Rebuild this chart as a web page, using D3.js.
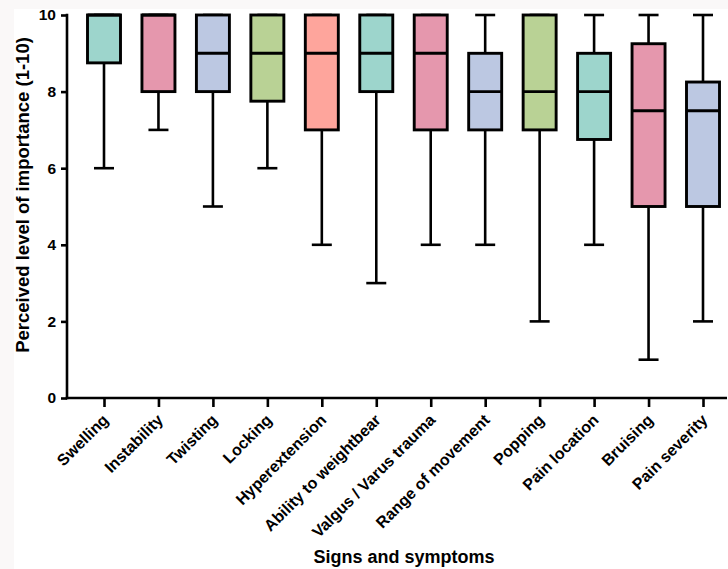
<!DOCTYPE html>
<html>
<head>
<meta charset="utf-8">
<script src="https://cdn.jsdelivr.net/npm/d3@7"></script>
<style>
  html, body { margin: 0; padding: 0; background: #faf8f8; }
  svg { display: block; }
  text { font-family: "Liberation Sans", Arial, Helvetica, sans-serif; font-weight: bold; fill: #000; }
</style>
</head>
<body>
<svg id="chart" width="728" height="569"></svg>
<script>
const categories = ["Swelling", "Instability", "Twisting", "Locking", "Hyperextension",
  "Ability to weightbear", "Valgus / Varus trauma", "Range of movement", "Popping",
  "Pain location", "Bruising", "Pain severity"];
const mins    = [6, 7, 5, 6, 4, 3, 4, 4, 2, 4, 1, 2];
const q1s     = [8.75, 8, 8, 7.75, 7, 8, 7, 7, 7, 6.75, 5, 5];
const medians = [10, 10, 9, 9, 9, 9, 9, 8, 8, 8, 7.5, 7.5];
const q3s     = [10, 10, 10, 10, 10, 10, 10, 9, 10, 9, 9.25, 8.25];
const maxs    = [10, 10, 10, 10, 10, 10, 10, 10, 10, 10, 10, 10];
const fills   = ["#9dd5cc", "#e597ad", "#bcc8e2", "#b9d295", "#fea59c", "#9dd5cc",
  "#e597ad", "#bcc8e2", "#b9d295", "#9dd5cc", "#e597ad", "#bcc8e2"];
const yTicks  = [0, 2, 4, 6, 8, 10];
const yTitle = "Perceived level of importance (1-10)";
const xTitle = "Signs and symptoms";

const svg = d3.select("#chart");
svg.append("rect").attr("x", 14).attr("y", 9).attr("width", 714).attr("height", 560).attr("fill", "#ffffff");

const x = d3.scalePoint().domain(categories).range([104, 703]);
const y = d3.scaleLinear().domain([0, 10]).range([398, 15]);

const data = categories.map((c, i) => ({
  c, min: mins[i], q1: q1s[i], med: medians[i], q3: q3s[i], max: maxs[i], fill: fills[i]
}));

const boxW = 33, capW = 20;
const g = svg.append("g");

const items = g.selectAll("g.box").data(data).join("g").attr("class", "box");
items.append("line")
  .attr("x1", d => x(d.c)).attr("x2", d => x(d.c))
  .attr("y1", d => y(d.min)).attr("y2", d => y(d.q1))
  .attr("stroke", "#000").attr("stroke-width", 2.6);
items.append("line")
  .attr("x1", d => x(d.c)).attr("x2", d => x(d.c))
  .attr("y1", d => y(d.q3)).attr("y2", d => y(d.max))
  .attr("stroke", "#000").attr("stroke-width", 2.6);
items.append("line")
  .attr("x1", d => x(d.c) - capW / 2).attr("x2", d => x(d.c) + capW / 2)
  .attr("y1", d => y(d.min)).attr("y2", d => y(d.min))
  .attr("stroke", "#000").attr("stroke-width", 2.6);
items.append("line")
  .attr("x1", d => x(d.c) - capW / 2).attr("x2", d => x(d.c) + capW / 2)
  .attr("y1", d => y(d.max)).attr("y2", d => y(d.max))
  .attr("stroke", "#000").attr("stroke-width", 2.6);
items.append("rect")
  .attr("x", d => x(d.c) - boxW / 2).attr("width", boxW)
  .attr("y", d => y(d.q3)).attr("height", d => y(d.q1) - y(d.q3))
  .attr("fill", d => d.fill).attr("stroke", "#000").attr("stroke-width", 2.9);
items.append("line")
  .attr("x1", d => x(d.c) - boxW / 2).attr("x2", d => x(d.c) + boxW / 2)
  .attr("y1", d => y(d.med)).attr("y2", d => y(d.med))
  .attr("stroke", "#000").attr("stroke-width", 2.9);

// Y axis
const yAxis = svg.append("g").attr("transform", "translate(67,0)")
  .call(d3.axisLeft(y).tickValues(yTicks).tickSize(6).tickSizeOuter(0).tickPadding(5));
yAxis.select(".domain").remove();
yAxis.selectAll(".tick line").attr("stroke", "#000").attr("stroke-width", 2.6);
yAxis.selectAll(".tick text").style("font-size", "15.5px").attr("fill", "#000");
svg.append("line").attr("x1", 67).attr("x2", 67).attr("y1", y(10) - 1.3).attr("y2", y(0) + 1.3)
  .attr("stroke", "#000").attr("stroke-width", 2.6);

// X axis
const xAxis = svg.append("g").attr("transform", `translate(0,${y(0)})`)
  .call(d3.axisBottom(x).tickSize(9).tickSizeOuter(0));
xAxis.select(".domain").remove();
xAxis.selectAll(".tick line").attr("stroke", "#000").attr("stroke-width", 2.6);
xAxis.selectAll(".tick text")
  .style("font-size", "16px")
  .attr("text-anchor", "end")
  .attr("y", 0).attr("dy", 0)
  .attr("transform", "translate(5,23) rotate(-45)");
svg.append("line").attr("x1", 67 - 1.3).attr("x2", 727).attr("y1", y(0)).attr("y2", y(0))
  .attr("stroke", "#000").attr("stroke-width", 2.6);

// Titles
svg.append("text").attr("transform", "translate(29,195) rotate(-90)")
  .attr("text-anchor", "middle").style("font-size", "18.5px").text(yTitle);
svg.append("text").attr("x", 404).attr("y", 563)
  .attr("text-anchor", "middle").style("font-size", "18px").text(xTitle);
</script>
</body>
</html>
